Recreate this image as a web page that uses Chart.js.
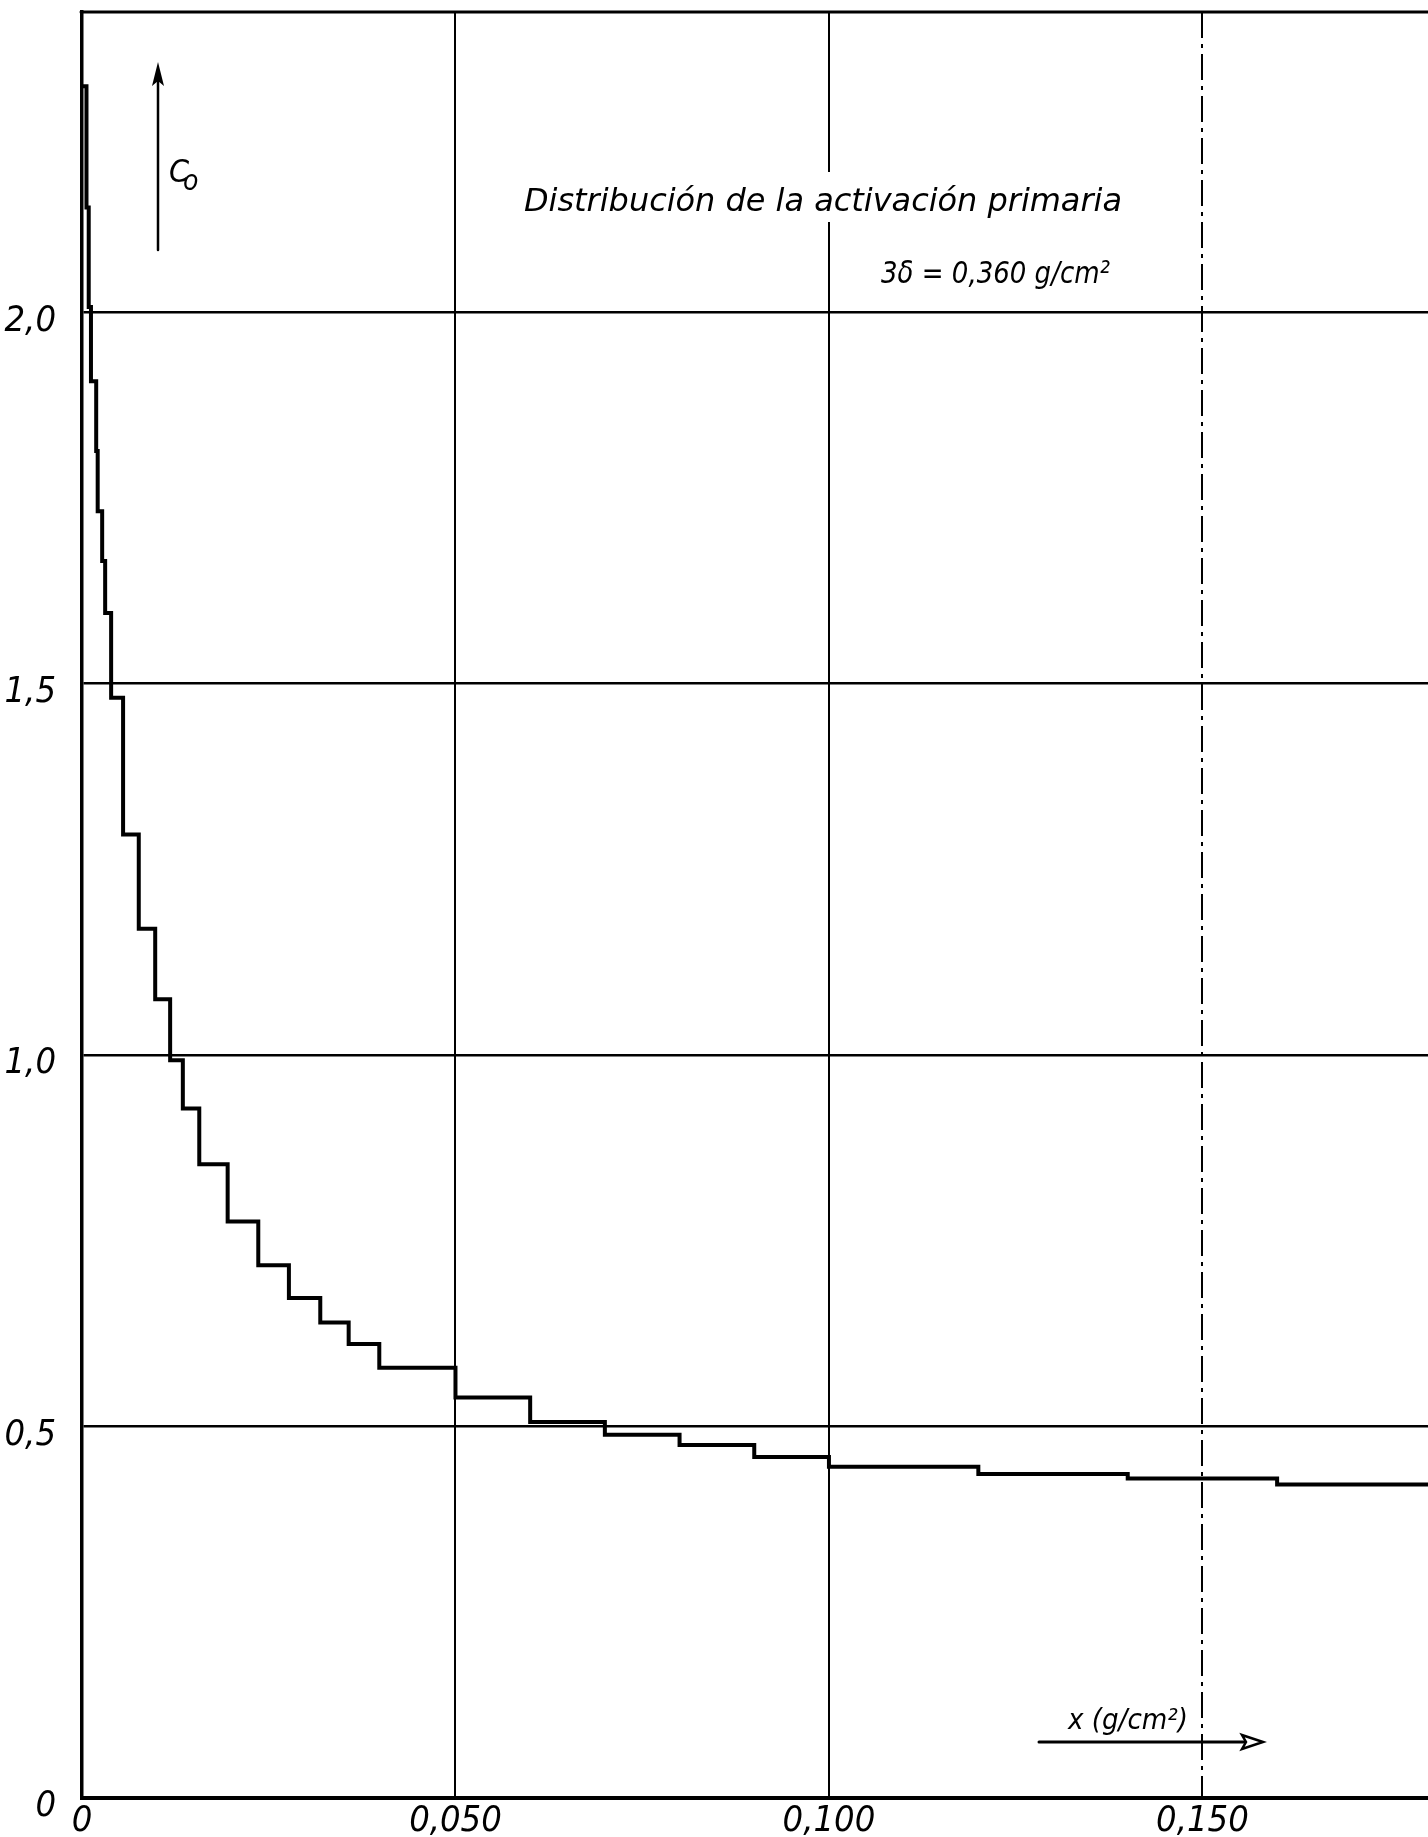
<!DOCTYPE html>
<html>
<head>
<meta charset="utf-8">
<script src="https://cdn.jsdelivr.net/npm/chart.js@4.4.1/dist/chart.umd.min.js"></script>
<style>
  html, body { margin: 0; padding: 0; background: #fff; }
  #wrap { width: 1428px; height: 1837px; position: relative; }
</style>
</head>
<body>
<div id="wrap"><canvas id="activationChart"></canvas></div>
<script>
// --- Datos (escalones de C0) ---
// cada valor de stepC vale desde su stepX hasta el siguiente
const stepX = [0, 0.0006, 0.0009, 0.0012, 0.0019, 0.0021, 0.0027, 0.0031, 0.0039, 0.0055,
               0.0076, 0.0098, 0.0118, 0.0135, 0.0157, 0.0195, 0.0236, 0.0277, 0.0319, 0.0357,
               0.0398, 0.050, 0.060, 0.070, 0.080, 0.090, 0.100, 0.120, 0.140, 0.160, 0.181];
const stepC = [2.304, 2.141, 2.007, 1.907, 1.813, 1.732, 1.665, 1.595, 1.481, 1.297,
               1.170, 1.075, 0.993, 0.928, 0.853, 0.776, 0.717, 0.673, 0.640, 0.611,
               0.579, 0.539, 0.506, 0.489, 0.475, 0.459, 0.446, 0.436, 0.430, 0.422, 0.422];
const xTicks = [0, 0.05, 0.10, 0.15];
const yTicks = [0, 0.5, 1.0, 1.5, 2.0];
const xMax = 0.1802;
const yMax = 2.404;

const handFont = "'Liberation Sans Narrow', 'DejaVu Sans Condensed', 'Arial Narrow', sans-serif";

function commaLabel(v, digits) {
  return v === 0 ? '0' : v.toFixed(digits).replace('.', ',');
}

// texto ajustado a un ancho dado
function fitText(ctx, text, x, y, width) {
  const w = ctx.measureText(text).width;
  ctx.save();
  ctx.translate(x, y);
  ctx.scale(width / w, 1);
  ctx.fillText(text, 0, 0);
  ctx.restore();
}

const whiteBg = {
  id: 'whiteBg',
  beforeDraw(chart) {
    const c = chart.ctx;
    c.save();
    c.fillStyle = '#fff';
    c.fillRect(0, 0, chart.width, chart.height);
    c.restore();
  }
};

const annotations = {
  id: 'annotations',
  afterDraw(chart) {
    const c = chart.ctx;
    const area = chart.chartArea;
    c.save();
    c.strokeStyle = '#000';
    c.fillStyle = '#000';
    c.lineCap = 'round';

    // marco superior
    c.lineWidth = 3;
    c.beginPath();
    c.moveTo(area.left - 1, area.top);
    c.lineTo(area.right, area.top);
    c.stroke();

    // flecha del eje C0
    c.lineWidth = 2.5;
    c.beginPath();
    c.moveTo(158, 250);
    c.lineTo(158, 80);
    c.stroke();
    c.beginPath();
    c.moveTo(158, 62);
    c.lineTo(152, 86);
    c.lineTo(158, 81);
    c.lineTo(164, 86);
    c.closePath();
    c.fill();

    c.font = 'italic 32px ' + handFont;
    c.fillText('C', 169, 182);
    c.font = 'italic 28px ' + handFont;
    c.fillText('o', 183, 190);

    // título (el gráfico original interrumpe la rejilla detrás)
    c.fillStyle = '#fff';
    c.fillRect(515, 172, 615, 50);
    c.fillStyle = '#000';
    c.font = 'italic 32px ' + handFont;
    fitText(c, 'Distribución de la activación primaria', 524, 211, 598);
    c.font = 'italic 31px ' + handFont;
    fitText(c, '3δ = 0,360 g/cm²', 881, 283, 229);

    // flecha del eje x
    c.font = 'italic 28px ' + handFont;
    fitText(c, 'x (g/cm²)', 1068, 1729, 120);
    c.lineWidth = 3;
    c.beginPath();
    c.moveTo(1039, 1742);
    c.lineTo(1244, 1742);
    c.stroke();
    c.lineWidth = 2.5;
    c.beginPath();
    c.moveTo(1263, 1742);
    c.lineTo(1242, 1735);
    c.lineTo(1246, 1742);
    c.lineTo(1242, 1749);
    c.closePath();
    c.stroke();
    c.restore();
  }
};

const chartCtx = document.getElementById('activationChart').getContext('2d');

const activationChart = new Chart(chartCtx, {
  type: 'line',
  data: {
    datasets: [{
      data: stepX.map((x, i) => ({ x: x, y: stepC[i] })),
      stepped: 'before',
      borderColor: '#000',
      borderWidth: 4,
      pointRadius: 0,
      fill: false
    }]
  },
  options: {
    responsive: true,
    maintainAspectRatio: false,
    animation: false,
    layout: { padding: { top: 12, right: 0, left: 0, bottom: 0 } },
    plugins: {
      legend: { display: false },
      tooltip: { enabled: false }
    },
    scales: {
      x: {
        type: 'linear',
        min: 0,
        max: xMax,
        afterBuildTicks: s => { s.ticks = xTicks.map(v => ({ value: v })); },
        afterFit: s => { s.height = 39; s.paddingLeft = 0; s.paddingRight = 0; },
        grid: { color: '#000', lineWidth: 2, drawTicks: false },
        border: {
          display: true, color: '#000', width: 4,
          dash: ctx => (ctx.tick && ctx.tick.value === 0.15) ? [26, 6, 4, 6] : []
        },
        ticks: {
          color: '#000',
          padding: 2,
          maxRotation: 0,
          autoSkip: false,
          font: { family: handFont, size: 36, style: 'italic' },
          callback: v => commaLabel(v, 3)
        }
      },
      y: {
        type: 'linear',
        min: 0,
        max: yMax,
        afterBuildTicks: s => { s.ticks = yTicks.map(v => ({ value: v })); },
        afterFit: s => { s.width = 82; s.paddingTop = 0; s.paddingBottom = 0; },
        grid: { color: '#000', lineWidth: 2.5, drawTicks: false },
        border: { display: true, color: '#000', width: 3.5 },
        ticks: {
          color: '#000',
          padding: 26,
          labelOffset: 9,
          autoSkip: false,
          font: { family: handFont, size: 36, style: 'italic' },
          callback: v => commaLabel(v, 1)
        }
      }
    }
  },
  plugins: [whiteBg, annotations]
});
</script>
</body>
</html>
